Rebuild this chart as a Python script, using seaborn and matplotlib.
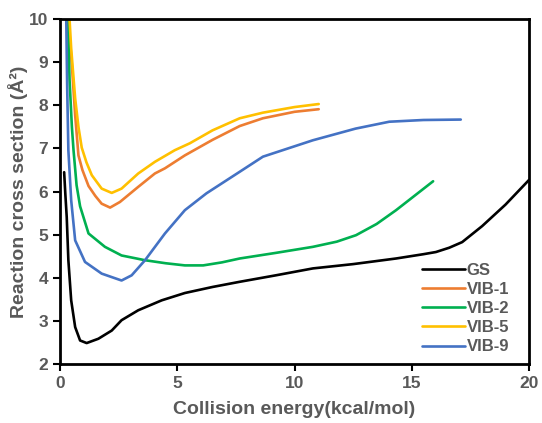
import seaborn as sns
import pandas as pd
import matplotlib.pyplot as plt

# collision energy (kcal/mol) and cross sections (A^2)
gs_x = [0.17, 0.22, 0.28, 0.35, 0.47, 0.64, 0.85, 1.13, 1.63, 2.20, 2.62, 3.33, 4.33, 5.32,
        6.5, 7.66, 9.2, 10.78, 12.5, 14.33, 15.5, 16.03, 16.6, 17.15, 18.0, 19.0, 20.0]
gs_y = [6.45, 5.95, 5.41, 4.41, 3.48, 2.86, 2.55, 2.49, 2.59, 2.78, 3.02, 3.25, 3.48, 3.65,
        3.79, 3.91, 4.06, 4.22, 4.32, 4.45, 4.55, 4.60, 4.70, 4.83, 5.20, 5.70, 6.27]

vib1_x = [0.35, 0.50, 0.64, 0.78, 0.95, 1.21, 1.50, 1.77, 2.13, 2.55, 3.33, 4.04, 4.47, 5.32,
          6.5, 7.66, 8.65, 10.0, 11.03]
vib1_y = [10.0, 8.93, 7.77, 6.84, 6.50, 6.13, 5.90, 5.72, 5.63, 5.76, 6.11, 6.42, 6.54, 6.84,
          7.2, 7.52, 7.70, 7.85, 7.91]

vib2_x = [0.33, 0.40, 0.50, 0.57, 0.70, 0.85, 1.21, 1.91, 2.62, 3.62, 4.5, 5.32, 6.10, 6.9,
          7.66, 9.2, 10.78, 11.8, 12.62, 13.5, 14.33, 15.91]
vib2_y = [10.0, 8.6, 7.5, 6.96, 6.15, 5.66, 5.03, 4.72, 4.52, 4.41, 4.34, 4.29, 4.29, 4.36,
          4.45, 4.58, 4.72, 4.84, 4.99, 5.25, 5.57, 6.24]

vib5_x = [0.40, 0.47, 0.64, 0.78, 0.92, 1.12, 1.35, 1.77, 2.20, 2.62, 3.33, 4.04, 4.89, 5.53,
          6.5, 7.66, 8.65, 10.0, 11.03]
vib5_y = [10.0, 9.32, 8.16, 7.50, 7.02, 6.68, 6.38, 6.07, 5.97, 6.07, 6.42, 6.69, 6.96, 7.12,
          7.42, 7.70, 7.83, 7.96, 8.03]

vib9_x = [0.26, 0.30, 0.35, 0.47, 0.64, 1.06, 1.77, 2.30, 2.62, 3.05, 3.62, 4.47, 5.32, 6.24,
          7.66, 8.65, 10.78, 12.6, 14.04, 15.5, 17.09]
vib9_y = [10.0, 8.4, 6.96, 5.80, 4.87, 4.37, 4.10, 4.00, 3.94, 4.06, 4.41, 5.03, 5.57, 5.96,
          6.46, 6.81, 7.19, 7.46, 7.62, 7.66, 7.67]

series = {"GS": (gs_x, gs_y), "VIB-1": (vib1_x, vib1_y), "VIB-2": (vib2_x, vib2_y),
          "VIB-5": (vib5_x, vib5_y), "VIB-9": (vib9_x, vib9_y)}
colors = {"GS": "#000000", "VIB-1": "#ED7D31", "VIB-2": "#00B050",
          "VIB-5": "#FFC000", "VIB-9": "#4472C4"}

rows = []
for name, (xs, ys) in series.items():
    for xv, yv in zip(xs, ys):
        rows.append([name, xv, yv])
df = pd.DataFrame(rows, columns=["State", "Energy", "Cross"])

sns.set_style("ticks")
plt.rcParams["font.family"] = ["Liberation Sans", "DejaVu Sans"]
plt.rcParams["font.weight"] = "bold"
grey = "#595959"

fig = plt.figure(figsize=(5.42, 4.23), dpi=100)
ax = fig.add_axes([0.111, 0.139, 0.865, 0.816])

sns.lineplot(data=df, x="Energy", y="Cross", hue="State", palette=colors,
             sort=False, estimator=None, units="State", linewidth=1.9, ax=ax)

ax.set_xlim(0, 20)
ax.set_ylim(2, 10)
ax.set_xticks([0, 5, 10, 15, 20])
ax.set_yticks(range(2, 11))
ax.tick_params(axis="both", labelsize=12.5, labelcolor=grey, width=1.5, length=5,
               color="black", direction="out")
for lab in ax.get_xticklabels() + ax.get_yticklabels():
    lab.set_fontweight("bold")
for sp in ax.spines.values():
    sp.set_visible(True)
    sp.set_linewidth(2)
    sp.set_color("black")

ax.set_xlabel("Collision energy(kcal/mol)", fontsize=14, fontweight="bold", color=grey,
              labelpad=7)
ax.set_ylabel("Reaction cross section (Å²)", fontsize=14, fontweight="bold", color=grey,
              labelpad=1)

leg = ax.legend(loc="lower right", bbox_to_anchor=(0.99, -0.015), frameon=False,
                fontsize=12, handlelength=2.6, handletextpad=0.1, labelspacing=0.25)
for t in leg.get_texts():
    t.set_color(grey)
    t.set_fontweight("bold")

fig.savefig("out.png", dpi=100)
